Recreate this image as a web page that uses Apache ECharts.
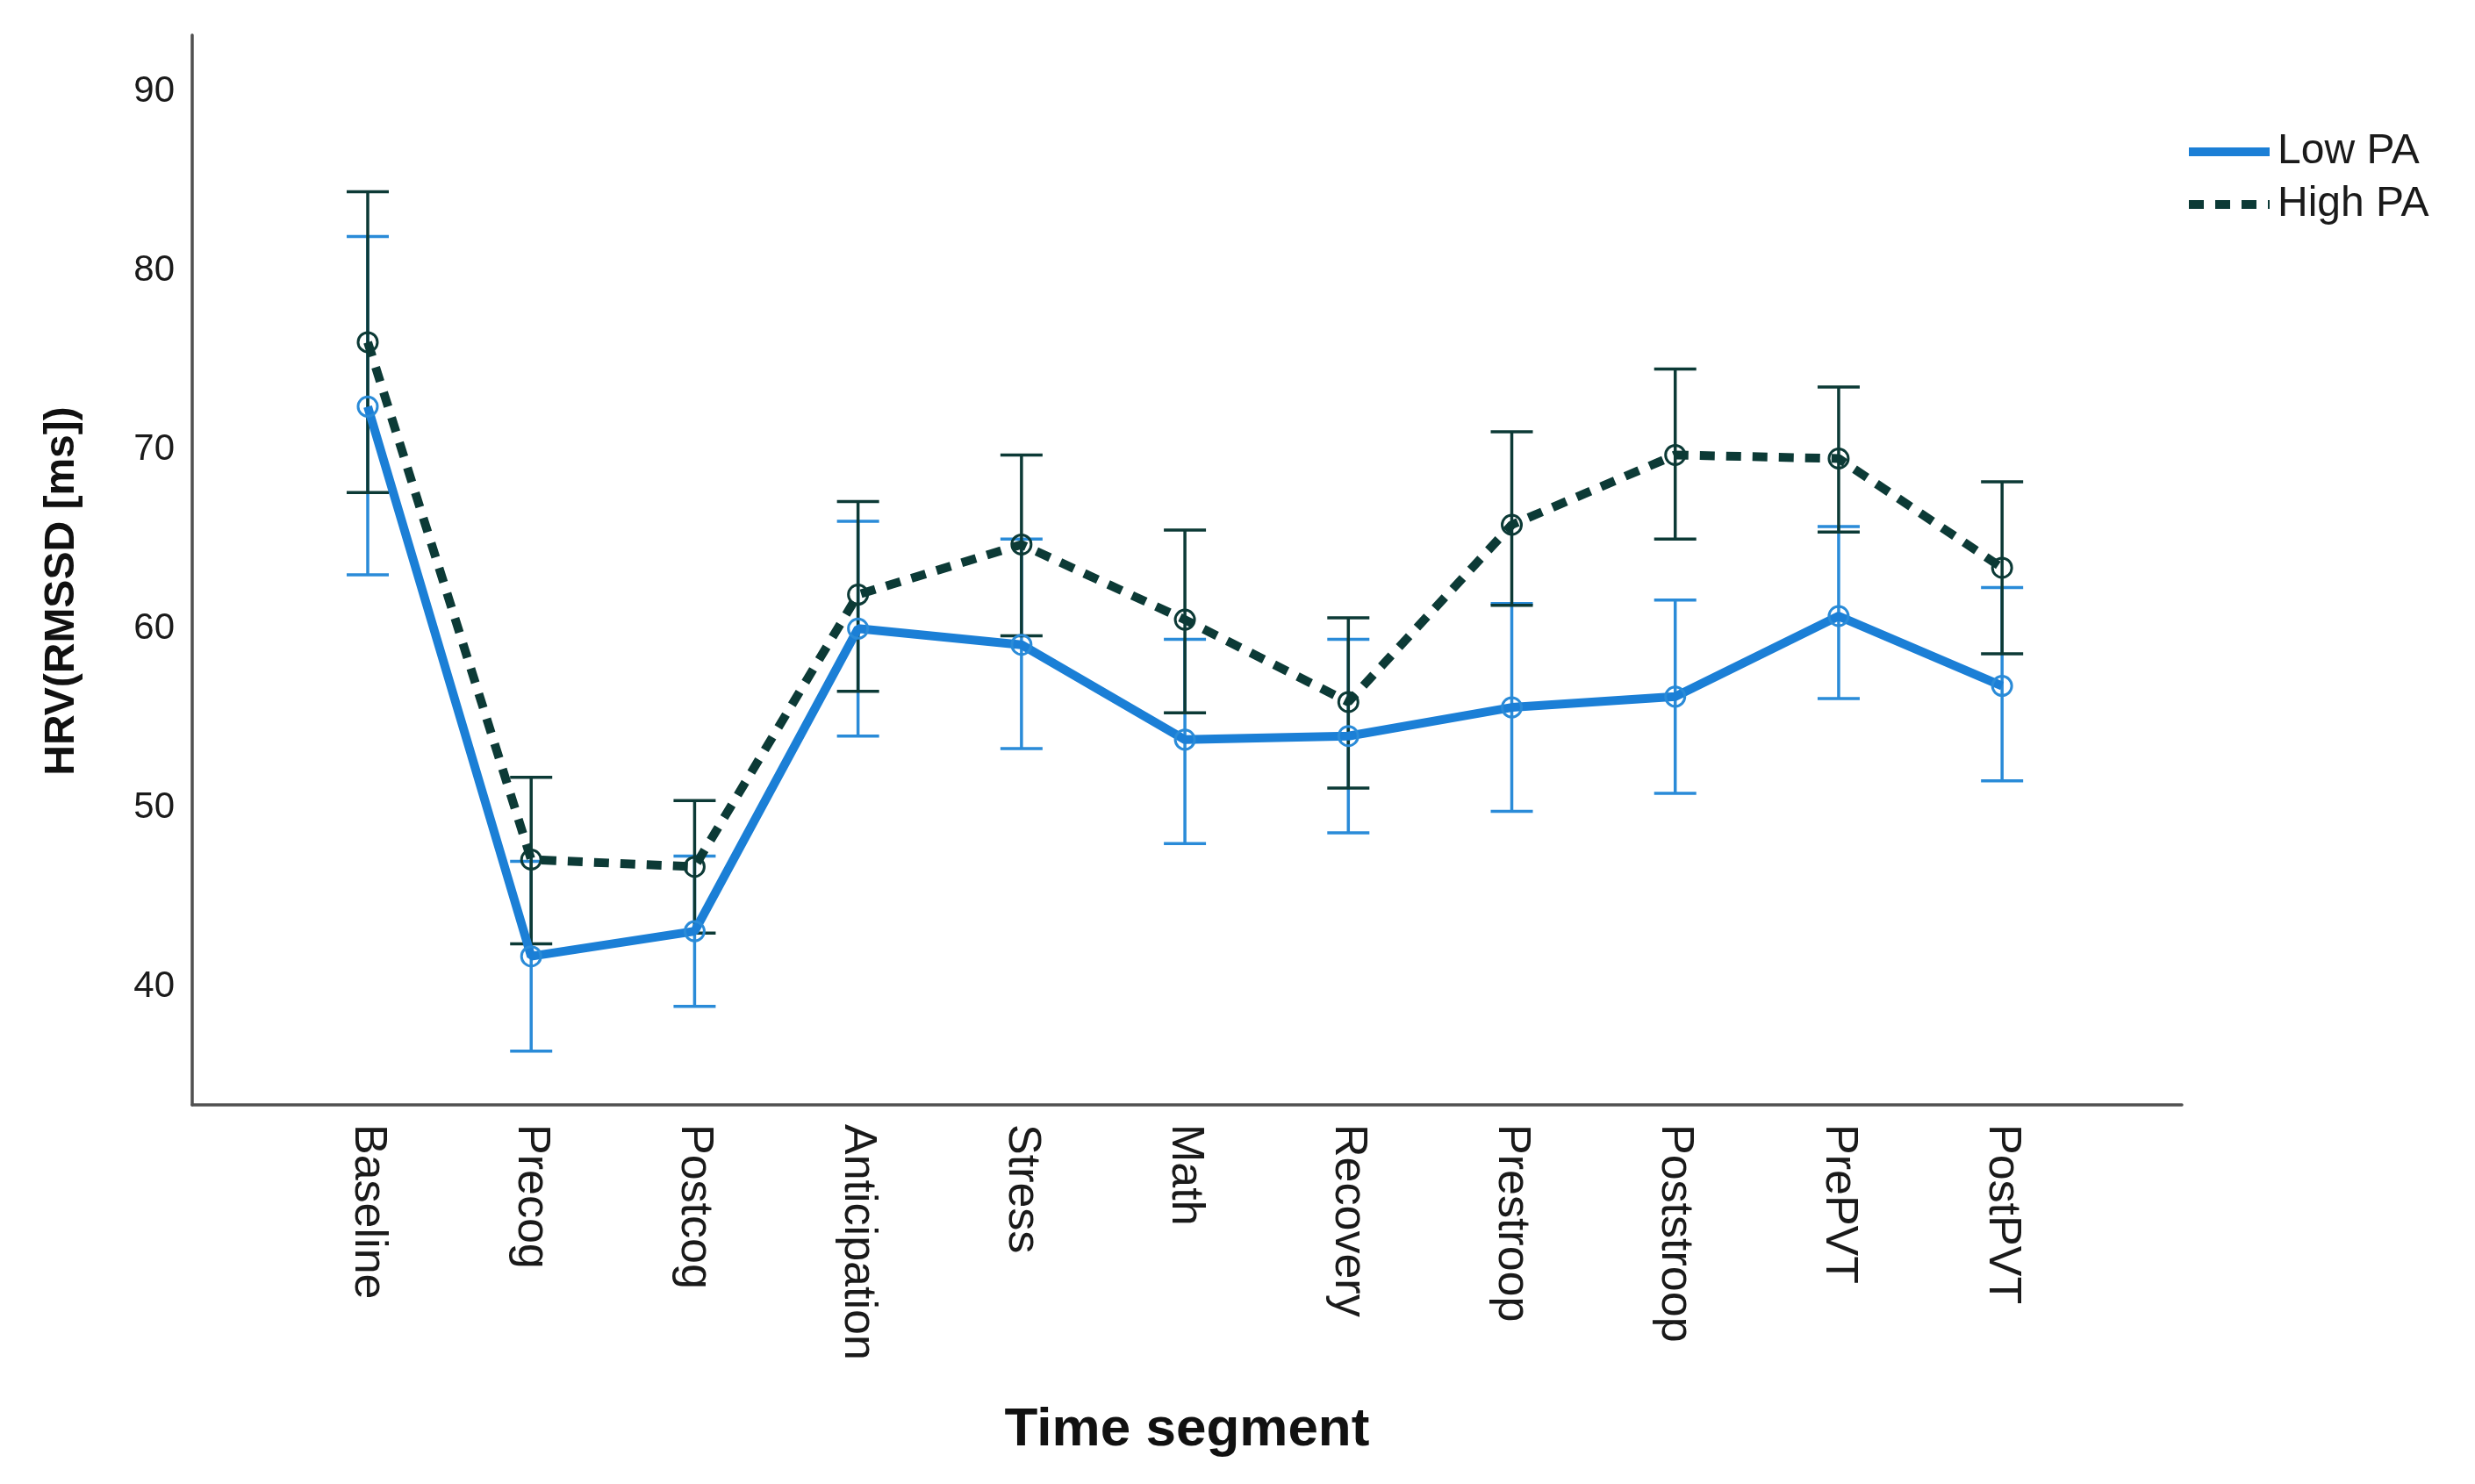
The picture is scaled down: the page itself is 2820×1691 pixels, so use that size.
<!DOCTYPE html>
<html>
<head>
<meta charset="utf-8">
<script src="https://cdn.jsdelivr.net/npm/echarts@6/dist/echarts.min.js"></script>
<style>
html,body{margin:0;padding:0;background:#fff;}
#chart{width:2820px;height:1691px;}
</style>
</head>
<body>
<div id="chart"></div>
<script>
const categories = ['Baseline','Precog','Postcog','Anticipation','Stress','Math','Recovery','Prestroop','Poststroop','PrePVT','PostPVT'];
const yTicks = [40, 50, 60, 70, 80, 90];

const lowMean  = [72.4, 41.7, 43.1, 60.0, 59.1, 53.8, 54.0, 55.6, 56.2, 60.7, 56.8];
const lowLower = [63.0, 36.4, 38.9, 54.0, 53.3, 48.0, 48.6, 49.8, 50.8, 56.1, 51.5];
const lowUpper = [81.9, 47.0, 47.3, 66.0, 65.0, 59.4, 59.4, 61.4, 61.6, 65.7, 62.3];

const highMean  = [76.0, 47.1, 46.7, 61.9, 64.7, 60.5, 55.9, 65.8, 69.7, 69.5, 63.4];
const highLower = [67.6, 42.4, 43.0, 56.5, 59.6, 55.3, 51.1, 61.3, 65.0, 65.4, 58.6];
const highUpper = [84.4, 51.7, 50.4, 67.1, 69.7, 65.5, 60.6, 71.0, 74.5, 73.5, 68.2];

const LOW_COLOR = '#1b7fd6';
const LOW_ERR = '#2a8bd8';
const HIGH_COLOR = '#0c3a36';

function pairs(means){ return means.map((v,i)=>[i,v]); }
function errData(lo, hi){ return lo.map((v,i)=>[i, v, hi[i]]); }

function errRender(color){
  return function(params, api){
    const x = api.value(0);
    const p1 = api.coord([x, api.value(1)]);
    const p2 = api.coord([x, api.value(2)]);
    const hw = 24;
    const style = {stroke: color, lineWidth: 3.5, fill: null};
    return {
      type: 'group',
      children: [
        {type:'line', shape:{x1:p1[0], y1:p1[1], x2:p2[0], y2:p2[1]}, style: style},
        {type:'line', shape:{x1:p1[0]-hw, y1:p1[1], x2:p1[0]+hw, y2:p1[1]}, style: style},
        {type:'line', shape:{x1:p2[0]-hw, y1:p2[1], x2:p2[0]+hw, y2:p2[1]}, style: style}
      ]
    };
  };
}

const chart = echarts.init(document.getElementById('chart'), null, {renderer:'canvas'});
const FONT = 'Liberation Sans, Arial, sans-serif';

chart.setOption({
  animation: false,
  backgroundColor: '#fff',
  textStyle: {fontFamily: FONT},
  grid: {left: 219, right: 334, top: 40, bottom: 432, containLabel: false},
  legend: {
    orient: 'vertical',
    left: 2484,
    top: 144,
    itemWidth: 92,
    itemHeight: 16,
    itemGap: 12,
    data: [
      {name: 'Low PA', lineStyle: {color: LOW_COLOR, width: 10, type: 'solid'}},
      {name: 'High PA', lineStyle: {color: HIGH_COLOR, width: 10, type: [17, 13]}}
    ],
    itemStyle: {opacity: 0},
    textStyle: {fontSize: 48, color: '#1a1a1a', fontFamily: FONT, padding: [0,0,0,4]}
  },
  xAxis: {
    type: 'value',
    min: -1.074,
    max: 11.10,
    name: 'Time segment',
    nameLocation: 'middle',
    nameGap: 340,
    nameTextStyle: {fontSize: 62, fontWeight: 'bold', color: '#111', fontFamily: FONT},
    axisLine: {show: true, onZero: false, lineStyle: {color: '#505050', width: 3.5}},
    axisTick: {show: false},
    splitLine: {show: false},
    axisLabel: {
      customValues: categories.map((c,i)=>i),
      formatter: function(v){ return categories[Math.round(v)]; },
      rotate: -90,
      margin: 22,
      fontSize: 52,
      color: '#1a1a1a',
      fontFamily: FONT
    }
  },
  yAxis: {
    type: 'value',
    min: 33.4,
    max: 93.15,
    name: 'HRV(RMSSD [ms])',
    nameLocation: 'middle',
    nameRotate: 90,
    nameGap: 124,
    nameTextStyle: {fontSize: 48, fontWeight: 'bold', color: '#111', fontFamily: FONT, padding: [0, 48, 0, 0]},
    axisLine: {show: true, onZero: false, lineStyle: {color: '#505050', width: 3.5}},
    axisTick: {show: false},
    splitLine: {show: false},
    axisLabel: {
      customValues: yTicks,
      margin: 20,
      fontSize: 42,
      color: '#1a1a1a',
      fontFamily: FONT
    }
  },
  series: [
    {
      name: 'LowErr',
      type: 'custom',
      renderItem: errRender(LOW_ERR),
      data: errData(lowLower, lowUpper),
      encode: {x: 0, y: [1, 2]},
      silent: true,
      z: 2
    },
    {
      name: 'HighErr',
      type: 'custom',
      renderItem: errRender(HIGH_COLOR),
      data: errData(highLower, highUpper),
      encode: {x: 0, y: [1, 2]},
      silent: true,
      z: 3
    },
    {
      name: 'Low PA',
      type: 'line',
      data: pairs(lowMean),
      symbol: 'circle',
      symbolSize: 22,
      showAllSymbol: true,
      lineStyle: {color: LOW_COLOR, width: 10, type: 'solid'},
      itemStyle: {color: 'rgba(0,0,0,0)', borderColor: LOW_ERR, borderWidth: 3},
      emphasis: {disabled: true},
      z: 4
    },
    {
      name: 'High PA',
      type: 'line',
      data: pairs(highMean),
      symbol: 'circle',
      symbolSize: 22,
      showAllSymbol: true,
      lineStyle: {color: HIGH_COLOR, width: 10, type: [17, 13]},
      itemStyle: {color: 'rgba(0,0,0,0)', borderColor: HIGH_COLOR, borderWidth: 3},
      emphasis: {disabled: true},
      z: 5
    }
  ]
});
</script>
</body>
</html>
